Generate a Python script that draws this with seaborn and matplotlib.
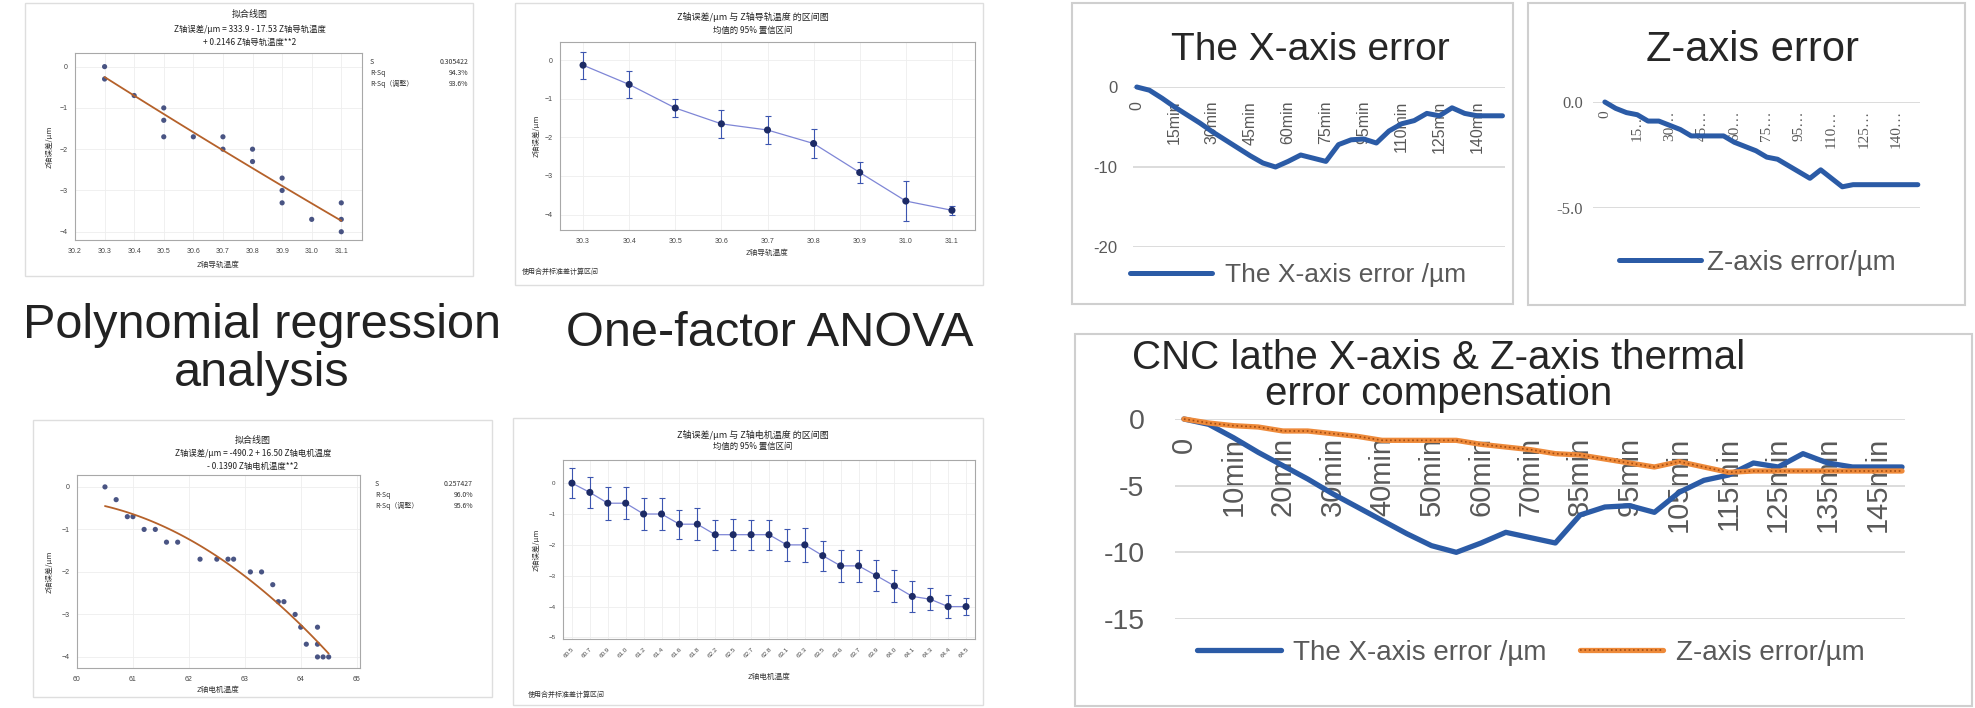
import numpy as np
import seaborn as sns
import matplotlib.pyplot as plt
from matplotlib.patches import Rectangle
from matplotlib.legend_handler import HandlerTuple

# --- Minitab fitted line plot (top): Z rail temperature vs Z error
temp_top = [30.3, 30.3, 30.4, 30.5, 30.5, 30.5, 30.6, 30.7, 30.7, 30.8, 30.8,
            30.9, 30.9, 30.9, 31.0, 31.1, 31.1, 31.1]
err_top = [0.0, -0.3, -0.7, -1.0, -1.3, -1.7, -1.7, -1.7, -2.0, -2.0, -2.3,
           -2.7, -3.0, -3.3, -3.7, -3.3, -3.7, -4.0]

# --- Minitab interval plot (top)
cat_top = ["30.3", "30.4", "30.5", "30.6", "30.7", "30.8", "30.9", "31.0", "31.1"]
mean_top = [-0.13, -0.63, -1.24, -1.65, -1.81, -2.16, -2.91, -3.65, -3.89]
ci_top = [0.35, 0.36, 0.23, 0.36, 0.36, 0.37, 0.27, 0.52, 0.11]

# --- Minitab fitted line plot (bottom)
temp_bot = [60.5, 60.7, 60.9, 61.0, 61.2, 61.4, 61.6, 61.8, 62.2, 62.5, 62.7, 62.8,
            63.1, 63.3, 63.5, 63.6, 63.7, 63.9, 64.0, 64.1, 64.3, 64.3, 64.3, 64.4, 64.5]
err_bot = [0.0, -0.3, -0.7, -0.7, -1.0, -1.0, -1.3, -1.3, -1.7, -1.7, -1.7, -1.7,
           -2.0, -2.0, -2.3, -2.7, -2.7, -3.0, -3.3, -3.7, -3.3, -3.7, -4.0, -4.0, -4.0]

# --- Minitab interval plot (bottom)
cat_bot = ["60.5", "60.7", "60.9", "61.0", "61.2", "61.4", "61.6", "61.8", "62.2",
           "62.5", "62.7", "62.8", "63.1", "63.3", "63.5", "63.6", "63.7", "63.9",
           "64.0", "64.1", "64.3", "64.4", "64.5"]
mean_bot = [0.0, -0.3, -0.65, -0.65, -1.0, -1.0, -1.33, -1.33, -1.67, -1.67, -1.67,
            -1.67, -2.0, -2.0, -2.35, -2.68, -2.68, -3.0, -3.33, -3.67, -3.76, -4.0, -4.0]
ci_bot = [0.49, 0.49, 0.54, 0.51, 0.51, 0.51, 0.47, 0.51, 0.49, 0.51, 0.49, 0.49,
          0.51, 0.54, 0.49, 0.51, 0.51, 0.51, 0.51, 0.49, 0.35, 0.38, 0.27]

# --- Excel line charts (CNC lathe thermal error)
time_min = [0, 5, 10, 15, 20, 25, 30, 35, 40, 45, 50, 55, 60, 65, 70, 75,
            85, 90, 95, 100, 105, 110, 115, 120, 125, 130, 135, 140, 145, 150]
x_error = [0.0, -0.4, -1.4, -2.5, -3.5, -4.5, -5.6, -6.6, -7.6, -8.6, -9.5, -10.0,
           -9.3, -8.5, -8.9, -9.3, -7.2, -6.6, -6.5, -7.0, -5.5, -4.6, -4.2, -3.3,
           -3.6, -2.6, -3.3, -3.6, -3.6, -3.6]
z_error = [0.0, -0.3, -0.5, -0.6, -0.9, -0.9, -1.1, -1.3, -1.6, -1.6, -1.6, -1.6,
           -1.9, -2.1, -2.3, -2.6, -2.7, -3.0, -3.3, -3.6, -3.2, -3.6, -4.0, -3.9,
           -3.9, -3.9, -3.9, -3.9, -3.9, -3.9]

W, H = 1975, 708
CJK = ["Noto Sans CJK SC", "DejaVu Sans"]
NAVY = "#1d2b66"
BLUE = "#2b5ba6"
ORANGE = "#ee8a3a"
GRAY = "#595959"

sns.set_theme(style="white")
plt.rcParams["font.family"] = ["Liberation Sans", "Noto Sans CJK SC", "DejaVu Sans"]

fig = plt.figure(figsize=(W / 100, H / 100), dpi=100)


def px_rect(x0, y0, x1, y1):
    return [x0 / W, 1 - y1 / H, (x1 - x0) / W, (y1 - y0) / H]


def ftext(x, y, s, **kw):
    kw.setdefault("ha", "center")
    kw.setdefault("va", "center")
    return fig.text(x / W, 1 - y / H, s, **kw)


def frame(x0, y0, x1, y1, color="#dedede", lw=1.0):
    fig.add_artist(Rectangle((x0 / W, 1 - y1 / H), (x1 - x0) / W, (y1 - y0) / H,
                             transform=fig.transFigure, fill=False,
                             edgecolor=color, lw=lw))


def fit_stats(x, y):
    x = np.asarray(x)
    y = np.asarray(y)
    coef = np.polyfit(x, y, 2)
    res = y - np.polyval(coef, x)
    n = len(x)
    ss_res = (res ** 2).sum()
    ss_tot = ((y - y.mean()) ** 2).sum()
    r2 = 1 - ss_res / ss_tot
    r2a = 1 - (1 - r2) * (n - 1) / (n - 3)
    return coef, np.sqrt(ss_res / (n - 3)), r2, r2a


def minitab_style(ax, fs=5):
    for s in ax.spines.values():
        s.set_color("#a8a8a8")
        s.set_linewidth(0.8)
    ax.tick_params(labelsize=fs, colors="#444444", length=2, width=0.5)
    ax.grid(True, color="#eeeeee", lw=0.6)


def fit_panel(ax, x, y, xlabel, xlim, ylim, xticks, xfmt, cx, ty, stats_y, stats_x):
    sns.regplot(x=x, y=y, order=2, ci=None, truncate=True, ax=ax, color=NAVY,
                scatter_kws=dict(s=14, edgecolor="none"),
                line_kws=dict(color="#b5612a", lw=1.3))
    ax.set_xlim(xlim)
    ax.set_ylim(ylim)
    ax.set_xticks(xticks)
    ax.set_xticklabels([xfmt.format(v) for v in xticks])
    ax.set_yticks([0, -1, -2, -3, -4])
    ax.set_xlabel("")
    ax.set_ylabel("")
    minitab_style(ax)
    coef, s, r2, r2a = fit_stats(x, y)
    sgn1 = "+" if coef[1] >= 0 else "-"
    sgn2 = "+" if coef[0] >= 0 else "-"
    ftext(cx, ty[0], "拟合线图", fontsize=6.5, family=CJK, color="#222222")
    ftext(cx, ty[1], f"Z轴误差/μm = {coef[2]:.1f} {sgn1} {abs(coef[1]):.2f} {xlabel}",
          fontsize=6, family=CJK, color="#222222")
    ftext(cx, ty[2], f"{sgn2} {abs(coef[0]):.4f} {xlabel}**2",
          fontsize=6, family=CJK, color="#222222")
    rows = [("S", f"{s:.6f}"), ("R-Sq", f"{r2 * 100:.1f}%"),
            ("R-Sq（调整）", f"{r2a * 100:.1f}%")]
    for i, (k, v) in enumerate(rows):
        ftext(stats_x[0], stats_y + i * 11, k, ha="left", fontsize=5, family=CJK, color="#333333")
        ftext(stats_x[1], stats_y + i * 11, v, ha="right", fontsize=5, family=CJK, color="#333333")


def interval_panel(ax, cats, means, ci, ylim, yticks, rot, fs):
    pos = np.arange(len(cats))
    sns.lineplot(x=pos, y=means, ax=ax, color="#7f86d6", lw=0.9)
    ax.errorbar(pos, means, yerr=ci, fmt="none", ecolor="#3d56b0", elinewidth=0.8,
                capsize=2.2, capthick=0.8)
    sns.scatterplot(x=pos, y=means, ax=ax, color=NAVY, s=26, edgecolor="none", zorder=4)
    ax.set_xlim(-0.5, len(cats) - 0.5)
    ax.set_ylim(ylim)
    ax.set_yticks(yticks)
    ax.set_xticks(pos)
    if rot:
        ax.set_xticklabels(cats, rotation=rot, ha="right", rotation_mode="anchor")
    else:
        ax.set_xticklabels(cats)
    minitab_style(ax, fs)


# ---------------- Minitab panels ----------------
frame(25, 3, 473, 276)
ax_a = fig.add_axes(px_rect(75, 53, 362, 240))
fit_panel(ax_a, temp_top, err_top, "Z轴导轨温度", (30.2, 31.17), (-4.2, 0.33),
          [30.2, 30.3, 30.4, 30.5, 30.6, 30.7, 30.8, 30.9, 31.0, 31.1], "{:.1f}",
          250, (15, 29, 42), 62, (370, 468))
ftext(50, 147, "Z轴误差/μm", rotation=90, fontsize=5.5, family=CJK, color="#333333")
ftext(218, 265, "Z轴导轨温度", fontsize=5.5, family=CJK, color="#333333")

frame(515, 3, 983, 285)
ax_b = fig.add_axes(px_rect(560, 42, 975, 230))
interval_panel(ax_b, cat_top, mean_top, ci_top, (-4.4, 0.47), [0, -1, -2, -3, -4], 0, 5)
ftext(753, 17, "Z轴误差/μm 与 Z轴导轨温度 的区间图", fontsize=6.5, family=CJK, color="#222222")
ftext(753, 30, "均值的 95% 置信区间", fontsize=6, family=CJK, color="#222222")
ftext(537, 136, "Z轴误差/μm", rotation=90, fontsize=5.5, family=CJK, color="#333333")
ftext(767, 253, "Z轴导轨温度", fontsize=5.5, family=CJK, color="#333333")
ftext(522, 272, "使用合并标准差计算区间", ha="left", fontsize=5, family=CJK, color="#333333")

frame(33, 420, 492, 697)
ax_c = fig.add_axes(px_rect(77, 475, 360, 668))
fit_panel(ax_c, temp_bot, err_bot, "Z轴电机温度", (60, 65.06), (-4.26, 0.28),
          [60, 61, 62, 63, 64, 65], "{:.0f}",
          253, (440, 453, 466), 484, (375, 473))
ftext(50, 572, "Z轴误差/μm", rotation=90, fontsize=5.5, family=CJK, color="#333333")
ftext(218, 690, "Z轴电机温度", fontsize=5.5, family=CJK, color="#333333")

frame(513, 418, 983, 705)
ax_d = fig.add_axes(px_rect(563, 460, 975, 639))
interval_panel(ax_d, cat_bot, mean_bot, ci_bot, (-5.05, 0.75), [0, -1, -2, -3, -4, -5], 45, 4.5)
ftext(753, 435, "Z轴误差/μm 与 Z轴电机温度 的区间图", fontsize=6.5, family=CJK, color="#222222")
ftext(753, 446, "均值的 95% 置信区间", fontsize=6, family=CJK, color="#222222")
ftext(537, 550, "Z轴误差/μm", rotation=90, fontsize=5.5, family=CJK, color="#333333")
ftext(769, 677, "Z轴电机温度", fontsize=5.5, family=CJK, color="#333333")
ftext(528, 695, "使用合并标准差计算区间", ha="left", fontsize=5, family=CJK, color="#333333")

# captions
ftext(262, 325, "Polynomial regression", fontsize=35, color="#222222")
ftext(262, 374, "analysis", fontsize=35, color="#222222")
ftext(770, 334, "One-factor ANOVA", fontsize=35, color="#222222")


# ---------------- Excel line charts ----------------
def excel_axes(ax, xlim, ylim, yticks, ylabels, step, cat_fmt, tick_fs, cat_fs,
               pad_y, pad_x, family=None):
    # spine position first: moving the spine rebuilds the ticks
    for s in ax.spines.values():
        s.set_visible(False)
    ax.spines["bottom"].set_position(("data", 0))
    ax.set_xlim(xlim)
    ax.set_ylim(ylim)
    ax.set_yticks(yticks)
    ax.set_yticklabels(ylabels)
    idx = list(range(0, len(time_min), step))
    ax.set_xticks(idx)
    ax.set_xticklabels([cat_fmt(time_min[i]) for i in idx])
    ax.grid(axis="y", color="#d9d9d9", lw=1.3)
    ax.grid(axis="x", visible=False)
    ax.set_axisbelow(True)
    ax.tick_params(axis="x", length=0, pad=pad_x, labelsize=cat_fs, labelcolor=GRAY,
                   labelrotation=90)
    ax.tick_params(axis="y", length=0, pad=pad_y, labelsize=tick_fs, labelcolor=GRAY)
    for lab in ax.get_xticklabels():
        lab.set_va("top")
        lab.set_ha("center")
    if family:
        for lab in ax.get_xticklabels() + ax.get_yticklabels():
            lab.set_family(family)
    ax.set_xlabel("")
    ax.set_ylabel("")


pos = np.arange(len(time_min))

# X-axis error
frame(1072, 3, 1513, 304, color="#cfcfcf", lw=1.5)
ax_e = fig.add_axes(px_rect(1133, 87, 1505, 247))
sns.lineplot(x=pos, y=x_error, ax=ax_e, color=BLUE, lw=3.6, clip_on=False,
             label="The X-axis error /µm")
excel_axes(ax_e, (-0.3, 29.2), (-20, 0), [0, -10, -20], ["0", "-10", "-20"], 3,
           lambda t: "0" if t == 0 else f"{t}min", 12, 11.5, 11, 10)
ftext(1310, 50, "The X-axis error", fontsize=28, color="#262626")
ax_e.legend(loc="center", bbox_to_anchor=((1128 + 1468) / 2 / W, 1 - 275 / H),
            bbox_transform=fig.transFigure, frameon=False, fontsize=19,
            handlelength=3.1, handletextpad=0.5, labelcolor=GRAY)

# Z-axis error
frame(1528, 3, 1965, 305, color="#cfcfcf", lw=1.5)
ax_f = fig.add_axes(px_rect(1593, 102, 1920, 208))
sns.lineplot(x=pos, y=z_error, ax=ax_f, color=BLUE, lw=3.6, clip_on=False,
             label="Z-axis error/µm")
excel_axes(ax_f, (-1.1, 29.2), (-5, 0), [0, -5], ["0.0", "-5.0"], 3,
           lambda t: "0" if t == 0 else f"{t}\u2026", 12, 11, 7, 6,
           family=["Liberation Serif", "DejaVu Serif"])
ftext(1753, 50, "Z-axis error", fontsize=30, color="#262626")
ax_f.legend(loc="center", bbox_to_anchor=((1620 + 1895) / 2 / W, 1 - 263 / H),
            bbox_transform=fig.transFigure, frameon=False, fontsize=20,
            handlelength=2.95, handletextpad=0.2, labelcolor=GRAY)

# combined chart
frame(1075, 334, 1972, 706, color="#cfcfcf", lw=1.5)
ax_g = fig.add_axes(px_rect(1175, 419, 1905, 619))
sns.lineplot(x=pos, y=x_error, ax=ax_g, color=BLUE, lw=3.8, clip_on=False)
sns.lineplot(x=pos, y=z_error, ax=ax_g, color=ORANGE, lw=3.8, clip_on=False)
sns.lineplot(x=pos, y=z_error, ax=ax_g, color="#a34c12", lw=1.2, ls=":", clip_on=False)
blue_line, orange_line, dot_line = ax_g.lines[-3:]
excel_axes(ax_g, (-0.36, 29.12), (-15, 0), [0, -5, -10, -15], ["0", "-5", "-10", "-15"], 2,
           lambda t: "0" if t == 0 else f"{t}min", 20.5, 21, 22, 13)
ftext(1439, 358, "CNC lathe X-axis & Z-axis thermal", fontsize=29, color="#262626")
ftext(1439, 394, "error compensation", fontsize=29, color="#262626")
ax_g.legend([blue_line, (orange_line, dot_line)], ["The X-axis error /µm", "Z-axis error/µm"],
            handler_map={tuple: HandlerTuple(ndivide=1)}, ncol=2,
            loc="center", bbox_to_anchor=((1198 + 1864) / 2 / W, 1 - 653 / H),
            bbox_transform=fig.transFigure, frameon=False, fontsize=20,
            handlelength=3.0, handletextpad=0.45, columnspacing=1.2, labelcolor=GRAY)

fig.savefig("out.png", dpi=100)
